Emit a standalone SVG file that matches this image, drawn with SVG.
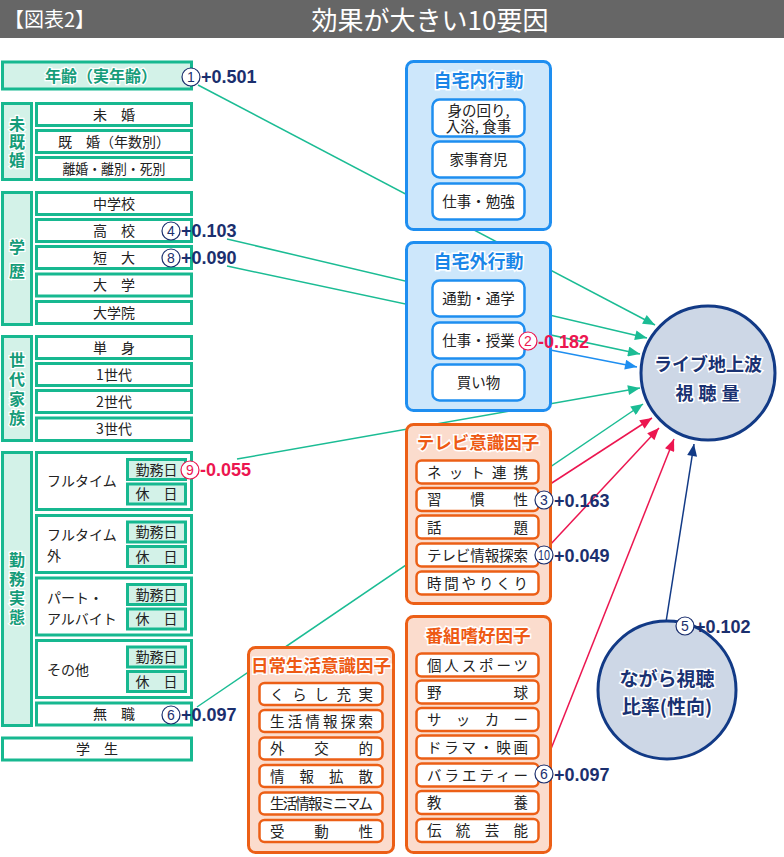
<svg xmlns="http://www.w3.org/2000/svg" width="784" height="857" viewBox="0 0 784 857">
<defs>
<style>
.jp{font-family:"Noto Sans CJK JP","Noto Sans",sans-serif}
.num{font-family:"Liberation Sans",Arial,sans-serif;font-weight:bold;font-size:18px}
.gl{fill:#d3f2e8;stroke:#17b890;stroke-width:3}
.gs{fill:#fff;stroke:#17b890;stroke-width:3}
.gi{fill:#d3f2e8;stroke:#17b890;stroke-width:3}
.gt{font-family:"Noto Sans CJK JP",sans-serif;font-weight:bold;fill:#159c79;stroke:#fff;stroke-width:2.5;paint-order:stroke;font-size:16px;text-anchor:middle}
.gv{font-family:"Noto Sans CJK JP",sans-serif;font-weight:bold;fill:#159c79;stroke:#fff;stroke-width:2.5;paint-order:stroke;font-size:16px;text-anchor:middle;writing-mode:vertical-rl;text-orientation:upright}
.st{font-family:"Noto Sans CJK JP",sans-serif;font-size:14px;fill:#222;text-anchor:middle}
.sl{font-family:"Noto Sans CJK JP",sans-serif;font-size:14px;fill:#222}
.bo{fill:#cde7fb;stroke:#1e8ef0;stroke-width:3}
.bi{fill:#fff;stroke:#1e8ef0;stroke-width:2.5}
.bt{font-family:"Noto Sans CJK JP",sans-serif;font-weight:bold;font-size:18px;fill:#1a86e8;stroke:#fff;stroke-width:3;paint-order:stroke;text-anchor:middle}
.bst{font-family:"Noto Sans CJK JP",sans-serif;font-size:14.5px;fill:#222;text-anchor:middle}
.oo{fill:#fbdccd;stroke:#ec5f16;stroke-width:3}
.oi{fill:#fff;stroke:#ec5f16;stroke-width:2.5}
.ot{font-family:"Noto Sans CJK JP",sans-serif;font-weight:bold;font-size:17.5px;fill:#ee5a14;stroke:#fff;stroke-width:3;paint-order:stroke;text-anchor:middle}
.ost{font-family:"Noto Sans CJK JP",sans-serif;font-size:14.5px;fill:#222}
.cn{fill:#fff;stroke:#1b2f6e;stroke-width:1.2}
.cp{fill:#fff;stroke:#ec1650;stroke-width:1.2}
.ctn{font-family:"Liberation Sans",Arial,sans-serif;font-size:14px;fill:#1b2f6e;text-anchor:middle}
.ctp{font-family:"Liberation Sans",Arial,sans-serif;font-size:14px;fill:#ec1650;text-anchor:middle}
.vn{fill:#1b2f6e}
.vp{fill:#ec1650}
.lg{stroke:#1bbc94;stroke-width:1.5;fill:none;marker-end:url(#ag)}
.lb{stroke:#1e8ef0;stroke-width:1.5;fill:none;marker-end:url(#ab)}
.lr{stroke:#ec1650;stroke-width:1.5;fill:none;marker-end:url(#ar)}
.ln{stroke:#123a86;stroke-width:1.5;fill:none;marker-end:url(#an)}
.circ{fill:#cdd7e6;stroke:#123a86;stroke-width:3}
.ct{font-family:"Noto Sans CJK JP",sans-serif;font-weight:bold;fill:#1a3272;stroke:#fff;stroke-width:3;paint-order:stroke;text-anchor:middle}
</style>
<marker id="ag" viewBox="0 0 12 10" refX="12" refY="5" markerWidth="13" markerHeight="10" markerUnits="userSpaceOnUse" orient="auto"><path d="M0,0 L12,5 L0,10 z" fill="#1bbc94"/></marker>
<marker id="ab" viewBox="0 0 12 10" refX="12" refY="5" markerWidth="13" markerHeight="10" markerUnits="userSpaceOnUse" orient="auto"><path d="M0,0 L12,5 L0,10 z" fill="#1e8ef0"/></marker>
<marker id="ar" viewBox="0 0 12 10" refX="12" refY="5" markerWidth="13" markerHeight="10" markerUnits="userSpaceOnUse" orient="auto"><path d="M0,0 L12,5 L0,10 z" fill="#ec1650"/></marker>
<marker id="an" viewBox="0 0 12 10" refX="12" refY="5" markerWidth="13" markerHeight="10" markerUnits="userSpaceOnUse" orient="auto"><path d="M0,0 L12,5 L0,10 z" fill="#123a86"/></marker>
</defs>
<rect x="0" y="0" width="784" height="857" fill="#fff"/>
<g id="header">
<rect x="0" y="0" width="784" height="38" fill="#666"/>
<text x="4" y="27" class="jp" font-size="20" fill="#fff">【図表2】</text>
<text x="430" y="30" class="jp" font-size="26" fill="#fff" text-anchor="middle">効果が大きい10要因</text>
</g>

<g id="target-circles">
<g id="live"><circle cx="708" cy="373" r="67" class="circ"/>
<text class="ct" font-size="18"><tspan x="708" y="371">ライブ地上波</tspan><tspan x="710" y="400" letter-spacing="5">視聴量</tspan></text></g>
<g id="nagara"><circle cx="667" cy="690" r="69" class="circ"/>
<text class="ct" font-size="19"><tspan x="667" y="686">ながら視聴</tspan><tspan x="667" y="714">比率(性向)</tspan></text></g>
</g>

<g id="connectors">
<line x1="198" y1="85" x2="655" y2="325" class="lg"/>
<line x1="227" y1="239" x2="647" y2="338" class="lg"/>
<line x1="227" y1="266" x2="640" y2="354" class="lg"/>
<line x1="535" y1="347" x2="637" y2="367" class="lb"/>
<line x1="237" y1="459" x2="640" y2="388" class="lg"/>
<line x1="197" y1="707" x2="643" y2="404" class="lg"/>
<line x1="541" y1="490" x2="652" y2="418" class="lr"/>
<line x1="549" y1="546" x2="659" y2="428" class="lr"/>
<line x1="545" y1="764" x2="674" y2="439" class="lr"/>
<line x1="666" y1="622" x2="694" y2="444" class="ln"/>
</g>

<g id="age"><rect x="2.5" y="62" width="189" height="27" class="gl"/>
<text x="101" y="82" class="gt" font-size="16.5">年齢（実年齢）</text></g>

<g id="marital">
<rect x="2.5" y="103.5" width="29" height="76" class="gl"/>
<text x="17" y="142.5" class="gv" letter-spacing="2">未既婚</text>
<rect x="36.5" y="103.5" width="155" height="22" class="gs"/><text x="114" y="119.5" class="st">未　婚</text>
<rect x="36.5" y="130.5" width="155" height="22" class="gs"/><text x="114" y="146.5" class="st">既　婚（年数別）</text>
<rect x="36.5" y="157.5" width="155" height="22" class="gs"/><text x="114" y="173.5" class="st" textLength="103" lengthAdjust="spacingAndGlyphs">離婚・離別・死別</text>
</g>

<g id="education">
<rect x="2.5" y="192.5" width="29" height="132" class="gl"/>
<text x="17" y="263" class="gv" font-size="17" letter-spacing="8">学歴</text>
<rect x="36.5" y="192.5" width="155" height="22" class="gs"/><text x="114" y="208.5" class="st">中学校</text>
<rect x="36.5" y="219.5" width="155" height="22" class="gs"/><text x="114" y="235.5" class="st">高　校</text>
<rect x="36.5" y="246.5" width="155" height="22" class="gs"/><text x="114" y="262.5" class="st">短　大</text>
<rect x="36.5" y="274" width="155" height="22" class="gs"/><text x="114" y="290" class="st">大　学</text>
<rect x="36.5" y="301.5" width="155" height="22" class="gs"/><text x="114" y="317.5" class="st">大学院</text>
</g>

<g id="household">
<rect x="2.5" y="336.5" width="29" height="104" class="gl"/>
<text x="17" y="390.5" class="gv" letter-spacing="3.5">世代家族</text>
<rect x="36.5" y="336.5" width="155" height="22" class="gs"/><text x="114" y="352.5" class="st">単　身</text>
<rect x="36.5" y="363.5" width="155" height="22" class="gs"/><text x="114" y="379.5" class="st">1世代</text>
<rect x="36.5" y="390.5" width="155" height="22" class="gs"/><text x="114" y="406.5" class="st">2世代</text>
<rect x="36.5" y="418" width="155" height="22.5" class="gs"/><text x="114" y="434" class="st">3世代</text>
</g>

<g id="work">
<rect x="2.5" y="452.5" width="29" height="273" class="gl"/>
<text x="17" y="590" class="gv" letter-spacing="3">勤務実態</text>
<rect x="36.5" y="452.5" width="155" height="57" class="gs"/>
<text x="47" y="486" class="sl">フルタイム</text>
<rect x="127.5" y="459.5" width="58" height="20" class="gi"/><text x="156.5" y="474.5" class="st">勤務日</text>
<rect x="127.5" y="484" width="58" height="20" class="gi"/><text x="156.5" y="499" class="st">休　日</text>
<rect x="36.5" y="515.5" width="155" height="57" class="gs"/>
<text class="sl"><tspan x="47" y="540">フルタイム</tspan><tspan x="47" y="561">外</tspan></text>
<rect x="127.5" y="522" width="58" height="20" class="gi"/><text x="156.5" y="537" class="st">勤務日</text>
<rect x="127.5" y="546.5" width="58" height="20" class="gi"/><text x="156.5" y="561.5" class="st">休　日</text>
<rect x="36.5" y="578" width="155" height="57" class="gs"/>
<text class="sl"><tspan x="47" y="603">パート・</tspan><tspan x="47" y="624">アルバイト</tspan></text>
<rect x="127.5" y="584.5" width="58" height="20" class="gi"/><text x="156.5" y="599.5" class="st">勤務日</text>
<rect x="127.5" y="609" width="58" height="20" class="gi"/><text x="156.5" y="624" class="st">休　日</text>
<rect x="36.5" y="640.5" width="155" height="57" class="gs"/>
<text x="47" y="675" class="sl">その他</text>
<rect x="127.5" y="647" width="58" height="20" class="gi"/><text x="156.5" y="662" class="st">勤務日</text>
<rect x="127.5" y="671.5" width="58" height="20" class="gi"/><text x="156.5" y="686.5" class="st">休　日</text>
<rect x="36.5" y="703" width="155" height="22" class="gs"/><text x="114" y="719" class="st">無　職</text>
</g>

<g id="student"><rect x="2.5" y="738" width="189" height="22" class="gs"/><text x="97" y="754" class="st">学　生</text></g>

<g id="home-in">
<rect x="406.5" y="61.5" width="144" height="168" rx="7" class="bo"/>
<text x="478.5" y="87" class="bt">自宅内行動</text>
<rect x="432.5" y="99.5" width="92" height="37" rx="7" class="bi"/>
<text class="bst"><tspan x="478.5" y="115.5">身の回り,</tspan><tspan x="478.5" y="132">入浴, 食事</tspan></text>
<rect x="432.5" y="141.5" width="92" height="36" rx="7" class="bi"/><text x="478.5" y="165" class="bst">家事育児</text>
<rect x="432.5" y="183.5" width="92" height="36" rx="7" class="bi"/><text x="478.5" y="207" class="bst">仕事・勉強</text>
</g>

<g id="home-out">
<rect x="406.5" y="242.5" width="144" height="168" rx="7" class="bo"/>
<text x="478.5" y="268" class="bt">自宅外行動</text>
<rect x="432.5" y="280.5" width="92" height="36" rx="7" class="bi"/><text x="478.5" y="304" class="bst">通勤・通学</text>
<rect x="432.5" y="322.5" width="92" height="36" rx="7" class="bi"/><text x="478.5" y="346" class="bst">仕事・授業</text>
<rect x="432.5" y="364.5" width="92" height="36" rx="7" class="bi"/><text x="478.5" y="388" class="bst">買い物</text>
</g>

<g id="tv">
<rect x="406.5" y="424.5" width="144" height="179" rx="7" class="oo"/>
<text x="478" y="449" class="ot">テレビ意識因子</text>
<rect x="416.5" y="460.5" width="122" height="23" rx="5" class="oi"/><text x="427" y="477.5" class="ost" textLength="101" lengthAdjust="spacing">ネット連携</text>
<rect x="416.5" y="488" width="122" height="23" rx="5" class="oi"/><text x="427" y="505" class="ost" textLength="101" lengthAdjust="spacing">習慣性</text>
<rect x="416.5" y="515.5" width="122" height="23" rx="5" class="oi"/><text x="427" y="532.5" class="ost" textLength="101" lengthAdjust="spacing">話題</text>
<rect x="416.5" y="543.5" width="122" height="23" rx="5" class="oi"/><text x="427" y="560.5" class="ost" textLength="101" lengthAdjust="spacing">テレビ情報探索</text>
<rect x="416.5" y="571.5" width="122" height="23" rx="5" class="oi"/><text x="427" y="588.5" class="ost" textLength="101" lengthAdjust="spacing">時間やりくり</text>
</g>

<g id="program">
<rect x="406.5" y="616.5" width="144" height="236" rx="7" class="oo"/>
<text x="478" y="642" class="ot">番組嗜好因子</text>
<rect x="416.5" y="653.5" width="122" height="23" rx="5" class="oi"/><text x="427" y="670.5" class="ost" textLength="101" lengthAdjust="spacing">個人スポーツ</text>
<rect x="416.5" y="680.5" width="122" height="23" rx="5" class="oi"/><text x="427" y="697.5" class="ost" textLength="101" lengthAdjust="spacing">野球</text>
<rect x="416.5" y="708" width="122" height="23" rx="5" class="oi"/><text x="427" y="725" class="ost" textLength="101" lengthAdjust="spacing">サッカー</text>
<rect x="416.5" y="735.5" width="122" height="23" rx="5" class="oi"/><text x="427" y="752.5" class="ost" textLength="101" lengthAdjust="spacing">ドラマ・映画</text>
<rect x="416.5" y="763.5" width="122" height="23" rx="5" class="oi"/><text x="427" y="780.5" class="ost" textLength="101" lengthAdjust="spacing">バラエティー</text>
<rect x="416.5" y="791" width="122" height="23" rx="5" class="oi"/><text x="427" y="808" class="ost" textLength="101" lengthAdjust="spacing">教養</text>
<rect x="416.5" y="819" width="122" height="23" rx="5" class="oi"/><text x="427" y="836" class="ost" textLength="101" lengthAdjust="spacing">伝統芸能</text>
</g>

<g id="daily">
<rect x="248.5" y="647.5" width="145" height="205" rx="7" class="oo"/>
<text x="321" y="672" class="ot" font-size="16.5">日常生活意識因子</text>
<rect x="259.5" y="683" width="123" height="22" rx="5" class="oi"/><text x="270" y="699.5" class="ost" textLength="103" lengthAdjust="spacing">くらし充実</text>
<rect x="259.5" y="710" width="123" height="22" rx="5" class="oi"/><text x="270" y="726.5" class="ost" textLength="103" lengthAdjust="spacing">生活情報探索</text>
<rect x="259.5" y="737.5" width="123" height="22" rx="5" class="oi"/><text x="270" y="754" class="ost" textLength="103" lengthAdjust="spacing">外交的</text>
<rect x="259.5" y="765" width="123" height="22" rx="5" class="oi"/><text x="270" y="781.5" class="ost" textLength="103" lengthAdjust="spacing">情報拡散</text>
<rect x="259.5" y="792.5" width="123" height="22" rx="5" class="oi"/><text x="270" y="809" class="ost" font-size="13" textLength="103" lengthAdjust="spacing">生活情報ミニマム</text>
<rect x="259.5" y="820" width="123" height="22" rx="5" class="oi"/><text x="270" y="836.5" class="ost" textLength="103" lengthAdjust="spacing">受動性</text>
</g>

<g id="labels">
<g><circle cx="191" cy="77" r="9" class="cn"/><text x="191" y="82" class="ctn">1</text><text x="201" y="83" class="num vn">+0.501</text></g>
<g><circle cx="171" cy="231" r="9" class="cn"/><text x="171" y="236" class="ctn">4</text><text x="181" y="237" class="num vn">+0.103</text></g>
<g><circle cx="171" cy="258" r="9" class="cn"/><text x="171" y="263" class="ctn">8</text><text x="181" y="264" class="num vn">+0.090</text></g>
<g><circle cx="190" cy="470" r="9" class="cp"/><text x="190" y="475" class="ctp">9</text><text x="200" y="476" class="num vp">-0.055</text></g>
<g><circle cx="171" cy="715" r="9" class="cn"/><text x="171" y="720" class="ctn">6</text><text x="181" y="721" class="num vn">+0.097</text></g>
<g><circle cx="528" cy="341" r="9" class="cp"/><text x="528" y="346" class="ctp">2</text><text x="538" y="348" class="num vp">-0.182</text></g>
<g><circle cx="544" cy="500" r="9" class="cn"/><text x="544" y="505" class="ctn">3</text><text x="554" y="507" class="num vn">+0.163</text></g>
<g><circle cx="544" cy="555" r="9" class="cn"/><text x="544" y="559.5" class="ctn" font-size="12" textLength="12" lengthAdjust="spacingAndGlyphs">10</text><text x="554" y="562" class="num vn">+0.049</text></g>
<g><circle cx="544" cy="774" r="9" class="cn"/><text x="544" y="779" class="ctn">6</text><text x="554" y="781" class="num vn">+0.097</text></g>
<g><circle cx="685" cy="626" r="9" class="cn"/><text x="685" y="631" class="ctn">5</text><text x="695" y="633" class="num vn">+0.102</text></g>
</g>
</svg>
